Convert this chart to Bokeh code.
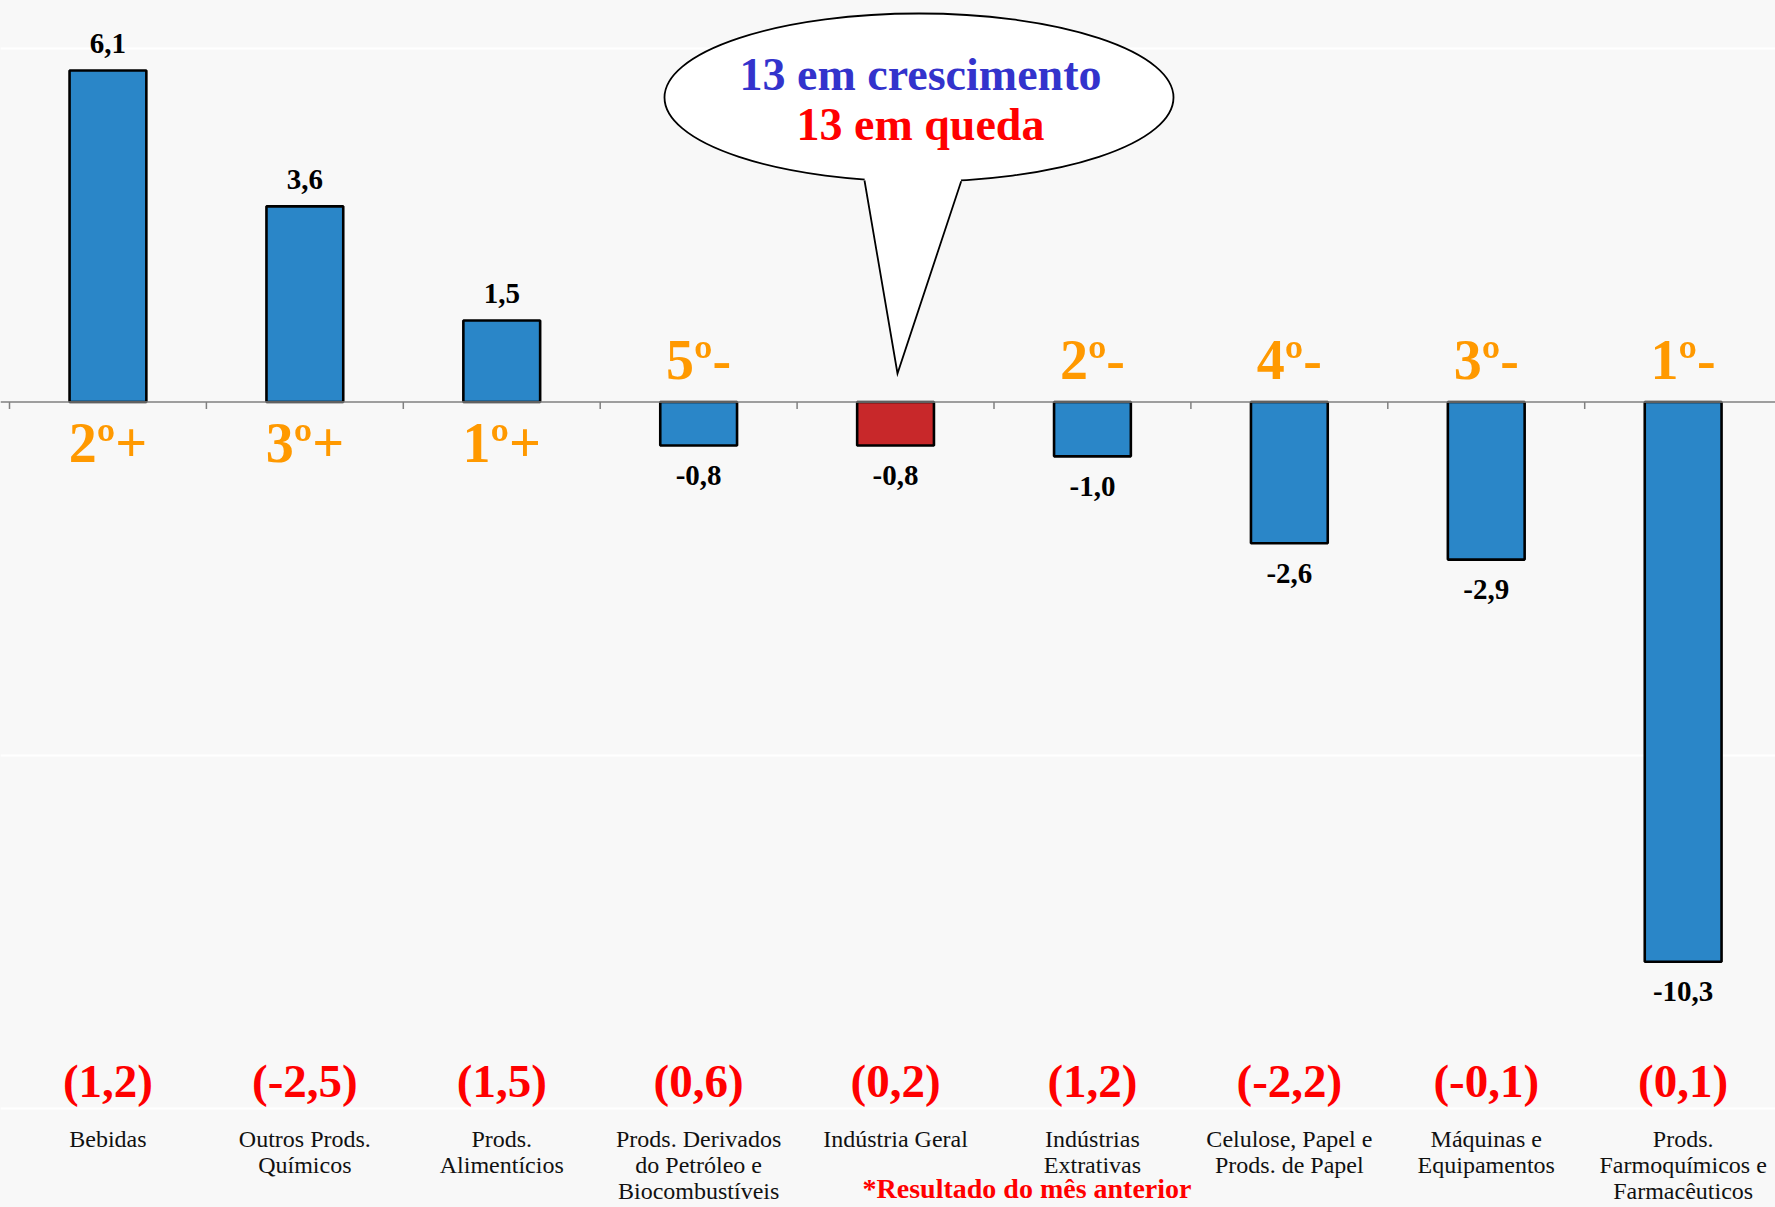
from bokeh.plotting import figure
from bokeh.models import Span, Grid, FixedTicker, Range1d
from bokeh.core.properties import value
from bokeh.embed import file_html
from bokeh.resources import INLINE

# ---------------- data ----------------
categories = [
    "Bebidas",
    "Outros Prods.\nQuímicos",
    "Prods.\nAlimentícios",
    "Prods. Derivados\ndo Petróleo e\nBiocombustíveis",
    "Indústria Geral",
    "Indústrias\nExtrativas",
    "Celulose, Papel e\nProds. de Papel",
    "Máquinas e\nEquipamentos",
    "Prods.\nFarmoquímicos e\nFarmacêuticos",
]
variation = [6.1, 3.6, 1.5, -0.8, -0.8, -1.0, -2.6, -2.9, -10.3]
previous_month = [1.2, -2.5, 1.5, 0.6, 0.2, 1.2, -2.2, -0.1, 0.1]
rank_labels = ["2º+", "3º+", "1º+", "5º-", "", "2º-", "4º-", "3º-", "1º-"]
highlight = "Indústria Geral"
n_growth = 13
n_decline = 13
grid_levels = [-13, -6.5, 6.5]
footnote = "*Resultado do mês anterior"

# ---------------- layout ----------------
W, H = 1775, 1207
BAND = 196.9          # px per category
PXY = 54.35           # px per unit on y
LEFT_PX = 9.0         # px where first band starts
ZERO_PX = 401.5       # px of the zero line

def dx(px):
    return (px - LEFT_PX) / BAND

def dy(py):
    return (ZERO_PX - py) / PXY

def fmt(v):
    return f"{v:.1f}".replace(".", ",")

BG = "#f8f8f8"
SERIF = value("Liberation Serif")

p = figure(
    width=W, height=H,
    x_range=Range1d(-LEFT_PX / BAND, (W - LEFT_PX) / BAND),
    y_range=Range1d(-(H - ZERO_PX) / PXY, ZERO_PX / PXY),
    output_backend="svg", toolbar_location=None,
    x_axis_location=None, y_axis_location=None,
    min_border=0, min_border_left=0, min_border_right=0,
    min_border_top=0, min_border_bottom=0,
    background_fill_color=BG, border_fill_color=BG,
    outline_line_color=None,
)
p.xgrid.visible = False
p.ygrid.visible = False

p.add_layout(Grid(dimension=1, ticker=FixedTicker(ticks=grid_levels),
                  grid_line_color="white", grid_line_width=2))

n = len(categories)
centers = [i + 0.5 for i in range(n)]

# zero line and category boundary ticks
p.add_layout(Span(location=0, dimension="width", line_color="#808080", line_width=1.5))
bounds = list(range(n + 1))
p.segment(x0=bounds, y0=[0] * len(bounds), x1=bounds, y1=[-7 / PXY] * len(bounds),
          line_color="#808080", line_width=1.5)

# bars
colors = ["#C8282A" if c.replace("\n", " ") == highlight else "#2A86C8" for c in categories]
p.vbar(x=centers, top=variation, bottom=0, width=0.39,
       fill_color=colors, line_color="black", line_width=2.6)

# value labels
val_txt = [fmt(v) for v in variation]
val_off = [-27 if v >= 0 else 30 for v in variation]
p.text(x=centers, y=variation, text=val_txt, y_offset=val_off,
       text_align="center", text_baseline="middle",
       text_font=SERIF, text_font_style="bold", text_font_size="29px",
       text_color="black")

# rank labels
rk_x = [c for c, r in zip(centers, rank_labels) if r]
rk_t = [r for r in rank_labels if r]
rk_off = [41 if v >= 0 else -42 for v, r in zip(variation, rank_labels) if r]
p.text(x=rk_x, y=[0] * len(rk_x), text=rk_t, y_offset=rk_off,
       text_align="center", text_baseline="middle",
       text_font=SERIF, text_font_style="bold", text_font_size="56px",
       text_color="#FF9900")

# previous month results
p.text(x=centers, y=[dy(1080)] * n, text=[f"({fmt(v)})" for v in previous_month],
       text_align="center", text_baseline="middle",
       text_font=SERIF, text_font_style="bold", text_font_size="47px",
       text_color="#FF0000")

# category labels (one glyph per line)
cx, cy, ct, co = [], [], [], []
for c, lab in zip(centers, categories):
    for j, line in enumerate(lab.split("\n")):
        cx.append(c)
        cy.append(dy(1138))
        ct.append(line)
        co.append(j * 26)
p.text(x=cx, y=cy, text=ct, y_offset=co,
       text_align="center", text_baseline="middle",
       text_font=SERIF, text_font_size="24px", text_color="#111111")

# footnote
p.text(x=[dx(1026.5)], y=[dy(1188)], text=[footnote],
       text_align="center", text_baseline="middle",
       text_font=SERIF, text_font_style="bold", text_font_size="28px",
       text_color="#FF0000")

# speech bubble
p.ellipse(x=[dx(918.5)], y=[dy(97)], width=509, height=168,
          width_units="screen", height_units="screen",
          fill_color="white", line_color="black", line_width=1.8)
p.patch(x=[dx(864), dx(897), dx(960.7), dx(958), dx(866)],
        y=[dy(180), dy(373), dy(180.7), dy(165), dy(165)],
        fill_color="white", line_color=None)
p.line(x=[dx(864), dx(897), dx(960.7)], y=[dy(180), dy(373), dy(180.7)],
       line_color="black", line_width=1.8, line_join="miter")
p.text(x=[dx(920)], y=[dy(74)], text=[f"{n_growth} em crescimento"],
       text_align="center", text_baseline="middle",
       text_font=SERIF, text_font_style="bold", text_font_size="46px",
       text_color="#3333CC")
p.text(x=[dx(920)], y=[dy(124)], text=[f"{n_decline} em queda"],
       text_align="center", text_baseline="middle",
       text_font=SERIF, text_font_style="bold", text_font_size="46px",
       text_color="#FF0000")

html = file_html(p, INLINE)
html = html.replace("</head>", f"<style>html, body {{ background-color: {BG}; }}</style></head>", 1)
open("out.html", "w").write(html)
